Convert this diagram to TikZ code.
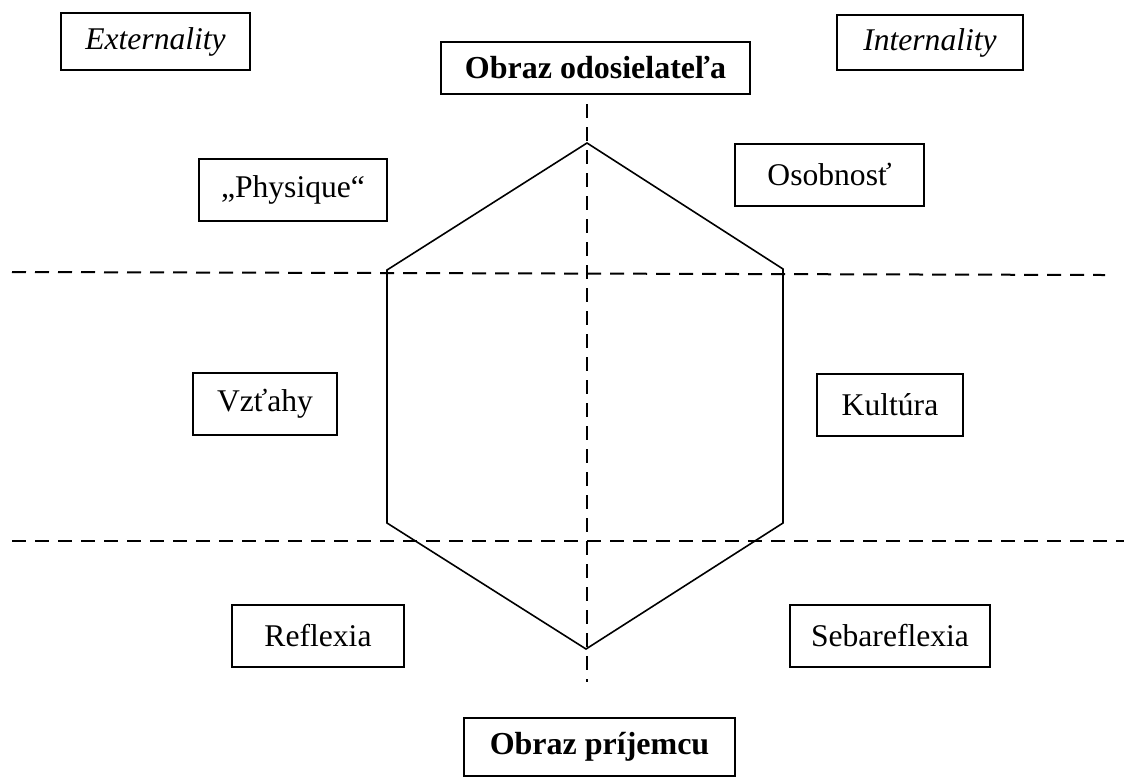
\documentclass[tikz,border=0pt]{standalone}
\usepackage{fontspec}
\setmainfont{Liberation Serif}
\usepackage{tikz}
\usetikzlibrary{positioning}

\begin{document}
\begin{tikzpicture}[x=0.5pt,y=-0.5pt,
   lbox/.style={draw,line width=1pt,minimum height=31pt,inner sep=0pt,align=center,
               font=\fontsize{15.8}{19}\selectfont},
   headbox/.style={lbox,font=\fontsize{16}{19}\selectfont\bfseries},
   divider/.style={line width=1pt,dash pattern=on 7pt off 4.5pt},
   hexline/.style={line width=0.8pt,line join=miter}]
  \useasboundingbox (0,0) rectangle (1124,778);
  % labels
  \node[lbox,minimum width=94.5pt,minimum height=28.5pt] (ext) at (155.5,41.5) {\itshape Externality};
  \node[lbox,minimum width=93pt,minimum height=27.5pt] (int) at (930,42.5) {\itshape Internality};
  \node[headbox,minimum width=154.5pt,minimum height=26pt] (sender) at (595.5,68) {Obraz odosielateľa};
  \node[lbox,minimum width=94pt] (physique) at (293,189.5) {„Physique“};
  \node[lbox,minimum width=94.5pt] (osob) at (829.5,174.5) {Osobnosť};
  \node[lbox,minimum width=72pt] (vztahy) at (265,404) {Vzťahy};
  \node[lbox,minimum width=73pt] (kultura) at (890,404.5) {Kultúra};
  \node[lbox,minimum width=86pt] (reflexia) at (318,635.5) {Reflexia};
  \node[lbox,minimum width=100pt] (sebaref) at (890,635.5) {Sebareflexia};
  \node[headbox,minimum width=135.5pt,minimum height=29pt] (receiver) at (599.5,747) {Obraz príjemcu};
  % hexagon
  \coordinate (h1) at (587,143);
  \coordinate (h2) at (783,269);
  \coordinate (h3) at (783,523);
  \coordinate (h4) at (586,649);
  \coordinate (h5) at (387,523);
  \coordinate (h6) at (387,270);
  \draw[hexline] (h1) -- (h2) -- (h3) -- (h4) -- (h5) -- (h6) -- cycle;
  % axes
  \coordinate (vtop) at (587,104);
  \coordinate (vbot) at (587,682);
  \coordinate (ul) at (12,272);
  \coordinate (ur) at (1105,275);
  \coordinate (ll) at (12,541);
  \coordinate (lr) at (1124,541);
  \draw[divider] (vtop) -- (vbot);
  \draw[divider] (ul) -- (ur);
  \draw[divider] (ll) -- (lr);
\end{tikzpicture}
\end{document}
